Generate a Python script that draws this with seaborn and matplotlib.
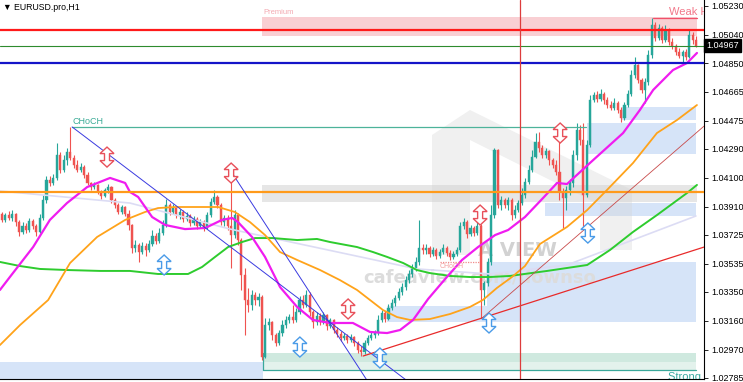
import numpy as np
import pandas as pd
import matplotlib
matplotlib.use("Agg")
import matplotlib.pyplot as plt
import matplotlib.transforms as mtransforms
from matplotlib.patches import Rectangle, Polygon
import seaborn as sns

# ---------------- data ----------------
first_open = 1.03861
closes = [
    1.03822, 1.03854, 1.03835, 1.03861, 1.03808, 1.03743, 1.03782, 1.03756, 1.03815, 1.03782,
    1.03743, 1.03835, 1.03953, 1.04084, 1.04065, 1.04098, 1.04249, 1.04150, 1.04216, 1.04268,
    1.04229, 1.04183, 1.04150, 1.04170, 1.04117, 1.04065, 1.04038, 1.04052, 1.04006, 1.03979,
    1.04019, 1.04038, 1.03953, 1.03920, 1.03874, 1.03907, 1.03861, 1.03789, 1.03638, 1.03657,
    1.03611, 1.03651, 1.03625, 1.03664, 1.03716, 1.03684, 1.03736, 1.03789, 1.03920, 1.03874,
    1.03900, 1.03854, 1.03874, 1.03828, 1.03848, 1.03802, 1.03828, 1.03782, 1.03808, 1.03769,
    1.03854, 1.03940, 1.03973, 1.03920, 1.03808, 1.03835, 1.03782, 1.03723, 1.03854, 1.03690,
    1.03460, 1.03296, 1.03263, 1.03329, 1.03296, 1.03316, 1.02922, 1.03132, 1.03151, 1.03066,
    1.03014, 1.03079, 1.03132, 1.03165, 1.03184, 1.03165, 1.03217, 1.03296, 1.03263, 1.03329,
    1.03217, 1.03151, 1.03191, 1.03151, 1.03197, 1.03125, 1.03165, 1.03099, 1.03073, 1.03046,
    1.03059, 1.03033, 1.03053, 1.03014, 1.02968, 1.02954, 1.03014, 1.03046, 1.03066, 1.03079,
    1.03165, 1.03211, 1.03171, 1.03244, 1.03276, 1.03309, 1.03349, 1.03381, 1.03427, 1.03467,
    1.03506, 1.03546, 1.03638, 1.03625, 1.03638, 1.03598, 1.03625, 1.03585, 1.03611, 1.03638,
    1.03605, 1.03579, 1.03598, 1.03625, 1.03782, 1.03808, 1.03730, 1.03769, 1.03736, 1.03782,
    1.03362, 1.03408, 1.03546, 1.03854, 1.04282, 1.03920, 1.03953, 1.03920, 1.03953, 1.03854,
    1.03887, 1.03933, 1.03986, 1.04071, 1.04150, 1.04235, 1.04334, 1.04295, 1.04249, 1.04275,
    1.04216, 1.04183, 1.04137, 1.04006, 1.03966, 1.04019, 1.04065, 1.04249, 1.04413, 1.04347,
    1.03986, 1.04314, 1.04610, 1.04643, 1.04617, 1.04649, 1.04610, 1.04577, 1.04557, 1.04590,
    1.04544, 1.04492, 1.04577, 1.04649, 1.04774, 1.04840, 1.04741, 1.04676, 1.04728, 1.04906,
    1.05103, 1.05017, 1.05083, 1.05004, 1.05070, 1.04991, 1.04965, 1.04925, 1.04899, 1.04925,
    1.04893, 1.05037, 1.05004, 1.04967,
]
highs = [
    1.03874, 1.03868, 1.03881, 1.03887, 1.03868, 1.03822, 1.03808, 1.03802, 1.03835, 1.03828,
    1.03795, 1.03861, 1.03986, 1.04111, 1.04111, 1.04124, 1.04328, 1.04268, 1.04249, 1.04295,
    1.04433, 1.04249, 1.04216, 1.04196, 1.04183, 1.04137, 1.04071, 1.04071, 1.04058, 1.04019,
    1.04032, 1.04058, 1.04045, 1.03966, 1.03933, 1.03920, 1.03914, 1.03887, 1.03795, 1.03690,
    1.03670, 1.03677, 1.03670, 1.03690, 1.03756, 1.03736, 1.03769, 1.03822, 1.03960, 1.03933,
    1.03927, 1.03907, 1.03894, 1.03887, 1.03874, 1.03861, 1.03848, 1.03841, 1.03828, 1.03822,
    1.03874, 1.03966, 1.04019, 1.03986, 1.03933, 1.03854, 1.03854, 1.04137, 1.03887, 1.03868,
    1.03703, 1.03506, 1.03375, 1.03362, 1.03349, 1.03342, 1.03329, 1.03178, 1.03178, 1.03158,
    1.03079, 1.03099, 1.03165, 1.03191, 1.03204, 1.03263, 1.03244, 1.03322, 1.03329, 1.03362,
    1.03349, 1.03230, 1.03217, 1.03211, 1.03217, 1.03204, 1.03178, 1.03171, 1.03119, 1.03092,
    1.03079, 1.03073, 1.03073, 1.03059, 1.03027, 1.02994, 1.03033, 1.03066, 1.03086, 1.03099,
    1.03197, 1.03230, 1.03224, 1.03270, 1.03303, 1.03329, 1.03375, 1.03408, 1.03454, 1.03493,
    1.03533, 1.03579, 1.03822, 1.03664, 1.03664, 1.03651, 1.03644, 1.03638, 1.03631, 1.03664,
    1.03651, 1.03625, 1.03618, 1.03644, 1.03808, 1.03835, 1.03822, 1.03789, 1.03782, 1.03808,
    1.03795, 1.03421, 1.03572, 1.03920, 1.04295, 1.04288, 1.03979, 1.03966, 1.03973, 1.03966,
    1.03920, 1.03953, 1.04032, 1.04098, 1.04183, 1.04282, 1.04393, 1.04400, 1.04314, 1.04295,
    1.04282, 1.04229, 1.04216, 1.04446, 1.04032, 1.04045, 1.04091, 1.04282, 1.04459, 1.04446,
    1.04459, 1.04347, 1.04643, 1.04663, 1.04669, 1.04682, 1.04663, 1.04630, 1.04603, 1.04623,
    1.04603, 1.04564, 1.04597, 1.04676, 1.04807, 1.04893, 1.04847, 1.04755, 1.04755, 1.04939,
    1.05149, 1.05122, 1.05109, 1.05096, 1.05103, 1.05083, 1.05017, 1.04978, 1.04952, 1.04939,
    1.04945, 1.05070, 1.05057, 1.05030,
]
lows = [
    1.03808, 1.03808, 1.03822, 1.03815, 1.03782, 1.03716, 1.03730, 1.03736, 1.03743, 1.03762,
    1.03716, 1.03736, 1.03822, 1.03933, 1.04045, 1.04052, 1.04084, 1.04130, 1.04137, 1.04183,
    1.04216, 1.04163, 1.04137, 1.04137, 1.04098, 1.04052, 1.04019, 1.04025, 1.03992, 1.03960,
    1.03973, 1.03999, 1.03933, 1.03900, 1.03861, 1.03861, 1.03848, 1.03756, 1.03605, 1.03611,
    1.03546, 1.03598, 1.03585, 1.03611, 1.03651, 1.03664, 1.03670, 1.03723, 1.03776, 1.03854,
    1.03861, 1.03835, 1.03828, 1.03808, 1.03815, 1.03782, 1.03789, 1.03762, 1.03769, 1.03749,
    1.03762, 1.03841, 1.03927, 1.03900, 1.03789, 1.03782, 1.03756, 1.03506, 1.03703, 1.03657,
    1.03362, 1.03066, 1.03217, 1.03230, 1.03263, 1.03257, 1.02902, 1.02915, 1.03099, 1.03033,
    1.02994, 1.03000, 1.03059, 1.03112, 1.03145, 1.03145, 1.03151, 1.03204, 1.03244, 1.03250,
    1.03191, 1.03112, 1.03132, 1.03132, 1.03138, 1.03099, 1.03112, 1.03079, 1.03053, 1.03027,
    1.03033, 1.03014, 1.03020, 1.02994, 1.02948, 1.02928, 1.02941, 1.03000, 1.03033, 1.03046,
    1.03066, 1.03151, 1.03151, 1.03165, 1.03230, 1.03257, 1.03296, 1.03329, 1.03362, 1.03408,
    1.03447, 1.03487, 1.03526, 1.03598, 1.03598, 1.03579, 1.03585, 1.03565, 1.03572, 1.03598,
    1.03585, 1.03559, 1.03565, 1.03585, 1.03611, 1.03762, 1.03703, 1.03716, 1.03716, 1.03723,
    1.03178, 1.03263, 1.03388, 1.03526, 1.03835, 1.03900, 1.03887, 1.03900, 1.03887, 1.03822,
    1.03835, 1.03874, 1.03920, 1.03966, 1.04058, 1.04137, 1.04229, 1.04268, 1.04229, 1.04229,
    1.04183, 1.04163, 1.04117, 1.03953, 1.03769, 1.03887, 1.03986, 1.04038, 1.04216, 1.04314,
    1.03776, 1.03973, 1.04301, 1.04597, 1.04597, 1.04603, 1.04584, 1.04557, 1.04544, 1.04544,
    1.04525, 1.04465, 1.04479, 1.04564, 1.04636, 1.04755, 1.04722, 1.04656, 1.04590, 1.04709,
    1.04886, 1.04998, 1.05004, 1.04985, 1.04991, 1.04971, 1.04945, 1.04906, 1.04886, 1.04860,
    1.04873, 1.04886, 1.04978, 1.04958,
]

# moving averages (bar index, price)
fast_ma_idx = [-0.6, 2.3, 9.1, 14.0, 19.0, 24.9, 31.6, 36.0, 37.4, 39.8, 43.9, 47.7, 53.5, 59.4,
               64.3, 67.3, 69.0, 73.1, 76.9, 81.3, 86.3, 90.9, 95.9, 102.6, 107.6, 112.6, 116.4,
               120.2, 124.6, 129.8, 134.5, 139.2, 144.2, 148.0, 152.9, 158.2, 162.3, 165.2, 171.9,
               181.6, 186.5, 190.4, 196.2, 200.3, 203.2]
fast_ma_val = [1.03362, 1.03447, 1.03644, 1.03822, 1.03933, 1.04038, 1.04098, 1.04065, 1.04006,
               1.03973, 1.03841, 1.03789, 1.03762, 1.03769, 1.03822, 1.03835, 1.03808, 1.03710,
               1.03579, 1.03381, 1.03250, 1.03165, 1.03145, 1.03145, 1.03086, 1.03079, 1.03099,
               1.03165, 1.03303, 1.03440, 1.03559, 1.03644, 1.03723, 1.03756, 1.03841, 1.03966,
               1.04065, 1.04058, 1.04196, 1.04393, 1.04544, 1.04676, 1.04807, 1.04853, 1.04919]
mid_ma_idx = [-0.6, 5.3, 13.5, 19.9, 27.8, 36.0, 41.8, 45.6, 50.6, 63.2, 68.1, 72.5, 76.9, 81.3,
              86.3, 93.0, 98.8, 103.8, 107.6, 111.4, 115.5, 119.3, 125.1, 131.0, 136.8, 140.6,
              144.7, 149.1, 152.9, 157.3, 165.2, 171.1, 176.9, 184.5, 191.5, 197.4, 203.2]
mid_ma_val = [1.03000, 1.03132, 1.03296, 1.03539, 1.03710, 1.03822, 1.03874, 1.03900, 1.03907,
              1.03907, 1.03874, 1.03808, 1.03723, 1.03611, 1.03559, 1.03493, 1.03427, 1.03362,
              1.03296, 1.03230, 1.03184, 1.03165, 1.03171, 1.03204, 1.03250, 1.03296, 1.03375,
              1.03447, 1.03519, 1.03664, 1.03776, 1.03887, 1.04019, 1.04196, 1.04393, 1.04479,
              1.04577]
slow_ma_idx = [-0.6, 5.3, 11.1, 19.0, 28.7, 37.4, 45.6, 54.4, 58.5, 62.3, 66.1, 70.2, 74.0, 79.2,
               86.3, 92.1, 95.9, 103.8, 108.5, 112.6, 117.3, 121.3, 125.1, 131.0, 136.8, 142.7,
               148.5, 159.4, 171.1, 177.8, 184.5, 191.5, 200.3, 203.2]
slow_ma_val = [1.03546, 1.03519, 1.03500, 1.03493, 1.03487, 1.03487, 1.03467, 1.03467, 1.03513,
               1.03579, 1.03644, 1.03677, 1.03703, 1.03703, 1.03690, 1.03697, 1.03677, 1.03644,
               1.03611, 1.03579, 1.03539, 1.03493, 1.03473, 1.03454, 1.03447, 1.03447, 1.03454,
               1.03487, 1.03526, 1.03625, 1.03743, 1.03854, 1.03999, 1.04052]
long_ma_idx = [-0.6, 37.4, 66.7, 121.3, 142.7, 165.2, 202.9]
long_ma_val = [1.04012, 1.03933, 1.03762, 1.03500, 1.03467, 1.03526, 1.03848]

# levels
level_red = 1.05070
level_bid = 1.04967
level_blue = 1.04855
level_orange = 1.04003
choch_level = 1.04433
weak_high = 1.05147
strong_low = 1.02836

# zones: (x0, x1, y0, y1)
premium_zone = (76.0, 203.2, 1.05033, 1.05153)
equilibrium_zone = (76.0, 203.2, 1.03940, 1.04052)
demand_zones = [
    (181.3, 202.9, 1.04479, 1.04564),
    (171.1, 202.9, 1.04255, 1.04459),
    (158.8, 202.9, 1.03848, 1.03933),
    (141.8, 202.9, 1.03151, 1.03546),
    (112.6, 141.8, 1.03151, 1.03257),
    (-0.6, 76.3, 1.02770, 1.02889),
]
strong_zone = (76.3, 202.9, 1.02836, 1.02948)
strong_split = 1.02889

# trend lines ((x0, y0), (x1, y1))
blue_lines = [((20.5, 1.04433), (119.3, 1.02751)), ((67.3, 1.04130), (107.6, 1.02738))]
red_line_a = ((105.6, 1.02928), (205.3, 1.03644))
red_line_b = ((140.4, 1.03178), (205.3, 1.04439))
vertical_bar = 151.5

# arrows
red_arrow_x = [30.7, 67.0, 101.2, 139.8, 163.2]
red_arrow_y = [1.04235, 1.04130, 1.03237, 1.03854, 1.04393]
blue_arrow_x = [47.4, 87.1, 110.5, 142.4, 171.3]
blue_arrow_y = [1.03526, 1.02987, 1.02915, 1.03145, 1.03736]

ytick_values = [1.05230, 1.05040, 1.04850, 1.04665, 1.04475, 1.04290, 1.04100, 1.03910,
                1.03725, 1.03535, 1.03350, 1.03160, 1.02970, 1.02785]
ytick_labels = ["1.05230", "1.05040", "1.04850", "1.04665", "1.04475", "1.04290", "1.04100",
                "1.03910", "1.03725", "1.03535", "1.03350", "1.03160", "1.02970", "1.02785"]

# ---------------- figure ----------------
sns.set_theme(style="white")
plt.rcParams['font.family'] = ['Liberation Sans', 'DejaVu Sans']

W, H = 743, 382
fig = plt.figure(figsize=(W / 100, H / 100), dpi=100)
fig.patch.set_facecolor("white")
AXW, AXH = 704, 379
ax = fig.add_axes([0, (H - AXH) / H, AXW / W, AXH / H])
ax.set_facecolor("white")
XLIM = (-0.585, 205.26)
YLIM = (1.02777, 1.05267)
ax.set_xlim(*XLIM)
ax.set_ylim(*YLIM)
sx = (XLIM[1] - XLIM[0]) / AXW
sy = (YLIM[1] - YLIM[0]) / AXH


def rect(z, color, zorder, **kw):
    x0, x1, y0, y1 = z
    ax.add_patch(Rectangle((x0, y0), x1 - x0, y1 - y0, facecolor=color, edgecolor='none',
                           zorder=zorder, **kw))


# zones
rect(premium_zone, '#f9cfd3', 1)
rect(equilibrium_zone, '#e6e6e6', 1)
for z in demand_zones:
    rect(z, '#d6e4f8', 1)
sz = strong_zone
rect((sz[0], sz[1], strong_split, sz[3]), '#cfe9df', 1)
rect((sz[0], sz[1], sz[2], strong_split), '#e3f2ec', 1)
ax.plot([sz[0], sz[1]], [sz[2], sz[2]], color='#3aa89a', lw=0.9, zorder=2)
ax.plot([sz[0], sz[0]], [sz[2], sz[3]], color='#3aa89a', lw=0.9, zorder=2)

# watermark (decorative, axes fraction)
wm = np.array([(432, 255), (432, 135), (470, 110), (632, 190), (632, 250), (600, 250),
               (600, 205), (470, 140), (470, 255)], dtype=float)
wm[:, 0] /= AXW
wm[:, 1] = 1 - wm[:, 1] / AXH
ax.add_patch(Polygon(wm, closed=True, transform=ax.transAxes, facecolor='#d4d4d4',
                     alpha=0.35, edgecolor='none', zorder=1.5))
ax.text(478 / AXW, 1 - 250 / AXH, "A VIEW", transform=ax.transAxes, fontsize=14,
        fontweight='bold', color='#d2d2d2', va='center', ha='left', zorder=1.6,
        family=['DejaVu Sans'])
ax.text(363 / AXW, 1 - 278 / AXH, "cafeaview.com/downso", transform=ax.transAxes, fontsize=13,
        fontweight='bold', color='#dcdcdc', va='center', ha='left', zorder=1.6, clip_on=True,
        family=['DejaVu Sans'])

# candles
n = len(closes)
idx = np.arange(n)
c = np.array(closes)
o = np.array([first_open] + closes[:-1])
hi = np.maximum(np.array(highs), np.maximum(o, c))
lo = np.minimum(np.array(lows), np.minimum(o, c))
up = c >= o
col = np.where(up, '#26a69a', '#ef5350')
ax.vlines(idx, lo, hi, colors=col, lw=0.8, zorder=3)
body = np.where(np.abs(c - o) < 0.00002, 0.00002, c - o)
ax.bar(idx, body, bottom=o, width=0.62, color=col, edgecolor=col, linewidth=0.3, zorder=3.1)

# moving averages through seaborn
for xs, ys, color, lw in [(long_ma_idx, long_ma_val, '#dcdcf4', 1.2),
                          (slow_ma_idx, slow_ma_val, '#2ecc2e', 1.4),
                          (mid_ma_idx, mid_ma_val, '#ffa31a', 1.3),
                          (fast_ma_idx, fast_ma_val, '#f01cf0', 1.6)]:
    df = pd.DataFrame({'bar': xs, 'price': ys})
    sns.lineplot(data=df, x='bar', y='price', ax=ax, color=color, lw=lw, sort=False,
                 estimator=None, zorder=4)

# horizontal levels
ax.axhline(level_red, color='#ff1a1a', lw=1.6, zorder=5)
ax.axhline(level_bid, color='#2e8b2e', lw=0.8, zorder=5)
ax.axhline(level_blue, color='#1414c8', lw=1.6, zorder=5)
ax.axhline(level_orange, color='#ff9a1a', lw=1.6, zorder=5)

ax.plot([20.5, 170.8], [choch_level, choch_level], color='#4db39a', lw=0.9, zorder=5)
ax.text(20.5, choch_level + 0.00004, "CHoCH", color='#3aab96', fontsize=6.5, va='bottom',
        ha='left', zorder=6)
ax.plot([190.4, 203.2], [weak_high, weak_high], color='#f0506a', lw=0.9, zorder=5)
ax.text(195.0, 1.05188, "Weak H", color='#f2788a', fontsize=8, va='center', ha='left',
        zorder=6, clip_on=True)
ax.text(76.3, 1.05188, "Premium", color='#f3a9b1', fontsize=5.5, va='center', ha='left', zorder=6)
ax.text(194.8, 1.02823, "Strong L", color='#3aa8a0', fontsize=8, va='top', ha='left', zorder=6,
        clip_on=True)
ax.plot([128.1, 139.8], [1.03547, 1.03547], color='#f08a8a', lw=0.9, ls=(0, (1, 1)), zorder=5)
ax.text(128.1, 1.03540, "CHoCH", color='#f3a0a0', fontsize=5, va='top', ha='left', zorder=6)

# trend lines
for (x0, y0), (x1, y1) in blue_lines:
    ax.plot([x0, x1], [y0, y1], color='#3a3ae0', lw=0.7, zorder=5)
ax.plot([red_line_a[0][0], red_line_a[1][0]], [red_line_a[0][1], red_line_a[1][1]],
        color='#e82a2a', lw=0.9, zorder=5)
ax.plot([red_line_b[0][0], red_line_b[1][0]], [red_line_b[0][1], red_line_b[1][1]],
        color='#c84a4a', lw=0.6, zorder=5)
ax.axvline(vertical_bar, color='#dd3c3c', lw=0.9, zorder=5)


def double_arrow(x, y, color):
    pts = np.array([(0, 10), (7, 3.5), (2.5, 3.5), (2.5, -3.5), (7, -3.5), (0, -10),
                    (-7, -3.5), (-2.5, -3.5), (-2.5, 3.5), (-7, 3.5)], dtype=float)
    xy = np.column_stack([x + pts[:, 0] * sx, y + pts[:, 1] * sy])
    ax.add_patch(Polygon(xy, closed=True, facecolor='white', edgecolor=color, lw=1.0, zorder=6))


for x, y in zip(red_arrow_x, red_arrow_y):
    double_arrow(x, y, '#e8505a')
for x, y in zip(blue_arrow_x, blue_arrow_y):
    double_arrow(x, y, '#4a9be8')

# axes styling
ax.set_xticks([])
ax.yaxis.tick_right()
ax.set_yticks(ytick_values)
ax.set_yticklabels(ytick_labels)
ax.tick_params(axis='y', which='major', right=True, left=False, length=3, width=0.6, pad=2,
               labelsize=6.5, colors='black', direction='out')
ax.set_xlabel("")
ax.set_ylabel("")
for side in ['top', 'left']:
    ax.spines[side].set_visible(False)
for side in ['right', 'bottom']:
    ax.spines[side].set_visible(True)
    ax.spines[side].set_color('black')
    ax.spines[side].set_linewidth(0.8)

trans = mtransforms.blended_transform_factory(ax.transAxes, ax.transData)
ax.text(1.003, level_bid, "1.04967", transform=trans, color='white', fontsize=6.5,
        va='center', ha='left', zorder=10, clip_on=False,
        bbox=dict(boxstyle='square,pad=0.25', fc='black', ec='black'))

ax.text(3 / AXW, 1 - 7 / AXH, "\u25bc EURUSD.pro,H1", transform=ax.transAxes, fontsize=6.3,
        color='black', va='center', ha='left', zorder=10)

fig.savefig("out.png", dpi=100, facecolor='white')
